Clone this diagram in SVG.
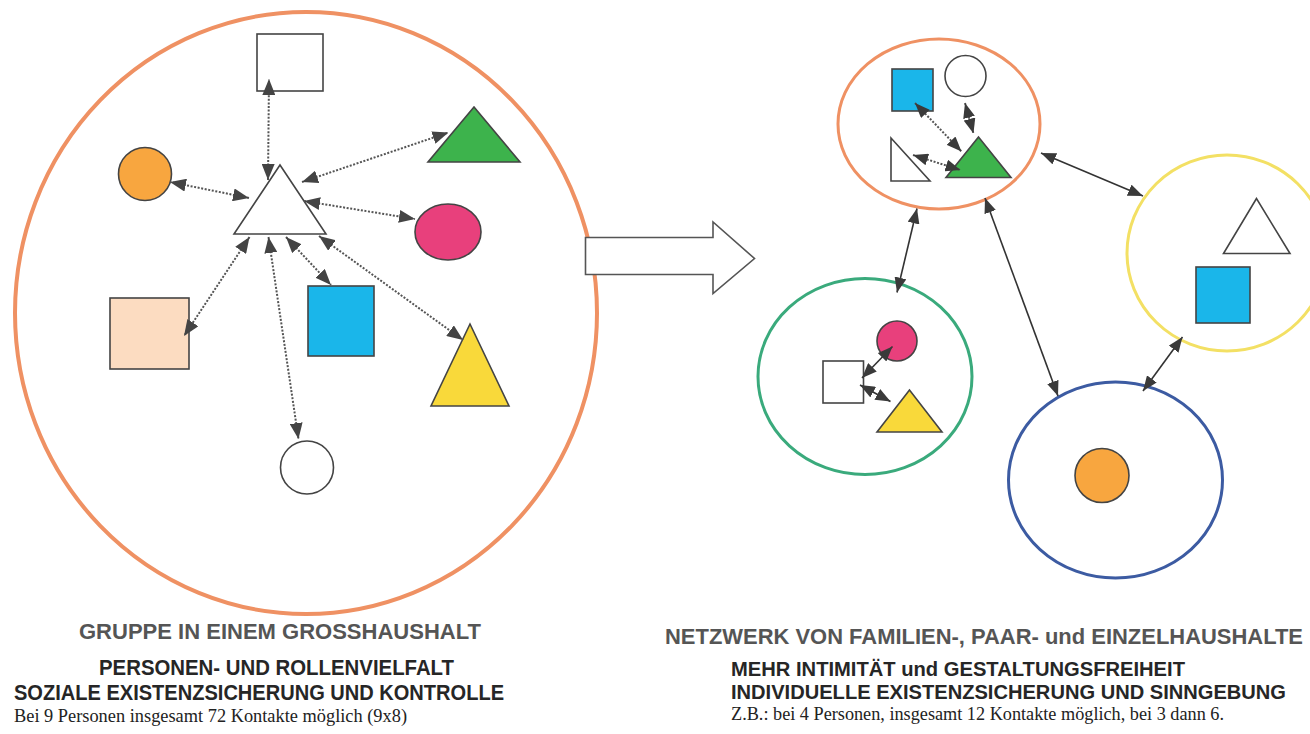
<svg xmlns="http://www.w3.org/2000/svg" width="1310" height="734" viewBox="0 0 1310 734">
<style>
.sh{stroke:#444;stroke-width:1.6}
.dot{fill:none;stroke:#555;stroke-width:2;stroke-dasharray:2 1.6}
.sol{fill:none;stroke:#333;stroke-width:1.6}
.t1{font-family:"Liberation Sans",Arial,sans-serif;font-size:22px;font-weight:bold;fill:#555}
.t2{font-family:"Liberation Sans",Arial,sans-serif;font-size:22px;font-weight:bold;fill:#262626}
.t2r{font-family:"Liberation Sans",Arial,sans-serif;font-size:20px;font-weight:bold;fill:#262626}
.t3{font-family:"Liberation Serif","Times New Roman",serif;font-size:19px;fill:#222}
.t3r{font-family:"Liberation Serif","Times New Roman",serif;font-size:18px;fill:#222}
</style>
<defs>
<marker id="ah" viewBox="0 0 16 13" refX="16" refY="6.5" markerWidth="16" markerHeight="13" markerUnits="userSpaceOnUse" orient="auto-start-reverse"><path d="M0,0 L16,6.5 L0,13 z" fill="#444"/></marker>
<marker id="as" viewBox="0 0 15 12" refX="15" refY="6" markerWidth="15" markerHeight="12" markerUnits="userSpaceOnUse" orient="auto-start-reverse"><path d="M0,0 L15,6 L0,12 z" fill="#3a3a3a"/></marker>
</defs>
<rect width="1310" height="734" fill="#fff"/>

<g id="grosshaushalt">
<ellipse cx="306" cy="313" rx="291" ry="301" fill="none" stroke="#EF9163" stroke-width="4"/>
</g>
<g id="big-arrow">
<path d="M585.5,237.5 L713,237.5 L713,222 L754.5,258.5 L713,293.5 L713,274.5 L585.5,274.5 z" fill="#fff" stroke="#555" stroke-width="1.6"/>
</g>

<g id="left-nodes">
<g id="n-top-rect"><rect x="257" y="34" width="66" height="57" fill="#fff" class="sh"/></g>
<g id="n-center-tri"><polygon points="280,165 234,234 326,234" fill="#fff" class="sh"/></g>
<g id="n-orange-circle"><circle cx="145" cy="174" r="26.5" fill="#F8A63F" class="sh"/></g>
<g id="n-green-tri"><polygon points="474,107 428,162 520,162" fill="#3DB34C" class="sh"/></g>
<g id="n-magenta"><ellipse cx="448" cy="232" rx="33" ry="28" fill="#E8407C" class="sh"/></g>
<g id="n-peach"><rect x="110" y="298" width="79" height="71" fill="#FCDCC1" class="sh"/></g>
<g id="n-blue"><rect x="308" y="286" width="66" height="70" fill="#1AB6EA" class="sh"/></g>
<g id="n-yellow-tri"><polygon points="470,324 431,406 509,406" fill="#F9D93A" class="sh"/></g>
<g id="n-white-circle"><circle cx="307" cy="467.5" r="26.5" fill="#fff" class="sh"/></g>
</g>

<g id="right-nodes">
<g id="hh-orange">
<ellipse cx="939" cy="124" rx="101" ry="85" fill="none" stroke="#EF9163" stroke-width="3"/>
<rect x="892" y="69" width="41" height="42" fill="#1AB6EA" class="sh"/>
<circle cx="965.5" cy="76" r="20.5" fill="#fff" class="sh"/>
<polygon points="891,138 891,181 930,181" fill="#fff" class="sh"/>
<polygon points="978.5,137 946,177.5 1011,177.5" fill="#3DB34C" class="sh"/>
</g>
<g id="hh-yellow">
<ellipse cx="1227" cy="253" rx="100" ry="98" fill="none" stroke="#F3E064" stroke-width="3"/>
<polygon points="1256.5,198.5 1223.5,253.5 1290,253.5" fill="#fff" class="sh"/>
<rect x="1196" y="267" width="54" height="56" fill="#1AB6EA" class="sh"/>
</g>
<g id="hh-green">
<ellipse cx="865" cy="376.5" rx="107" ry="98" fill="none" stroke="#3AAA7C" stroke-width="3"/>
<circle cx="897" cy="341" r="20" fill="#E8407C" class="sh"/>
<rect x="823" y="361" width="40.5" height="42" fill="#fff" class="sh"/>
<polygon points="909.5,390 877,432 942,432" fill="#F9D93A" class="sh"/>
</g>
<g id="hh-blue">
<ellipse cx="1115.5" cy="480" rx="107" ry="98" fill="none" stroke="#3C5BA2" stroke-width="3"/>
<circle cx="1102" cy="475.5" r="27" fill="#F8A63F" class="sh"/>
</g>
</g>

<g id="connectors">
<line x1="268" y1="180" x2="269" y2="79" class="dot" marker-start="url(#ah)" marker-end="url(#ah)"/>
<line x1="249" y1="198" x2="170" y2="182" class="dot" marker-start="url(#ah)" marker-end="url(#ah)"/>
<line x1="302" y1="182" x2="448.5" y2="132.5" class="dot" marker-start="url(#ah)" marker-end="url(#ah)"/>
<line x1="304" y1="201" x2="415" y2="219" class="dot" marker-start="url(#ah)" marker-end="url(#ah)"/>
<line x1="249.5" y1="237" x2="184" y2="336" class="dot" marker-start="url(#ah)" marker-end="url(#ah)"/>
<line x1="268.5" y1="237" x2="298.5" y2="439" class="dot" marker-start="url(#ah)" marker-end="url(#ah)"/>
<line x1="286" y1="237" x2="331" y2="285" class="dot" marker-start="url(#ah)" marker-end="url(#ah)"/>
<line x1="319" y1="236" x2="463" y2="340" class="dot" marker-start="url(#ah)" marker-end="url(#ah)"/>

<line x1="915" y1="103" x2="961.5" y2="151.5" class="dot" marker-start="url(#as)" marker-end="url(#as)"/>
<line x1="913" y1="155" x2="960.5" y2="170" class="dot" marker-start="url(#as)" marker-end="url(#as)"/>
<line x1="965" y1="103" x2="973.5" y2="133.5" class="dot" marker-start="url(#as)" marker-end="url(#as)"/>

<line x1="892.5" y1="346.5" x2="862" y2="378" class="sol" marker-start="url(#as)" marker-end="url(#as)"/>
<line x1="860" y1="385" x2="890.5" y2="401.5" class="sol" marker-start="url(#as)" marker-end="url(#as)"/>

<line x1="1041" y1="153" x2="1143" y2="196" class="sol" marker-start="url(#as)" marker-end="url(#as)"/>
<line x1="917" y1="208.5" x2="897" y2="292.5" class="sol" marker-start="url(#as)" marker-end="url(#as)"/>
<line x1="985" y1="198" x2="1058" y2="396" class="sol" marker-start="url(#as)" marker-end="url(#as)"/>
<line x1="1182.5" y1="337" x2="1143" y2="391" class="sol" marker-start="url(#as)" marker-end="url(#as)"/>
</g>

<g id="labels-left">
<text class="t1" x="79" y="639" textLength="402" lengthAdjust="spacingAndGlyphs">GRUPPE IN EINEM GROSSHAUSHALT</text>
<text class="t2" x="99" y="675" textLength="355" lengthAdjust="spacingAndGlyphs">PERSONEN- UND ROLLENVIELFALT</text>
<text class="t2" x="14" y="700" textLength="490" lengthAdjust="spacingAndGlyphs">SOZIALE EXISTENZSICHERUNG UND KONTROLLE</text>
<text class="t3" x="14" y="722" textLength="393" lengthAdjust="spacingAndGlyphs">Bei 9 Personen insgesamt 72 Kontakte möglich (9x8)</text>
</g>
<g id="labels-right">
<text class="t1" x="665" y="644" textLength="638" lengthAdjust="spacingAndGlyphs">NETZWERK VON FAMILIEN-, PAAR- und EINZELHAUSHALTE</text>
<text class="t2r" x="731" y="676" textLength="454" lengthAdjust="spacingAndGlyphs">MEHR INTIMITÄT und GESTALTUNGSFREIHEIT</text>
<text class="t2r" x="731" y="699" textLength="555" lengthAdjust="spacingAndGlyphs">INDIVIDUELLE EXISTENZSICHERUNG UND SINNGEBUNG</text>
<text class="t3r" x="731" y="720" textLength="493" lengthAdjust="spacingAndGlyphs">Z.B.: bei 4 Personen, insgesamt 12 Kontakte möglich, bei 3 dann 6.</text>
</g>
</svg>
